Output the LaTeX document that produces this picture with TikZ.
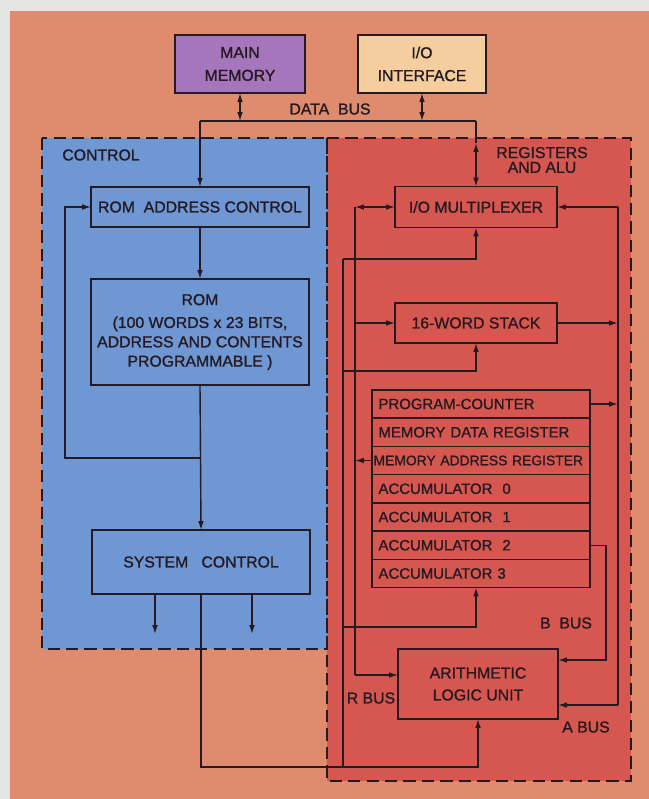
\documentclass[tikz,border=0pt]{standalone}
\usepackage{fontspec}
\setmainfont{Liberation Sans}[RawFeature={embolden=1.2}]
\usetikzlibrary{arrows.meta, positioning, calc}

\definecolor{sheetgray}{HTML}{E4E4E2}
\definecolor{plateorange}{HTML}{DE8C6D}
\definecolor{ctrlblue}{HTML}{6E97D3}
\definecolor{regred}{HTML}{D6574F}
\definecolor{mempurple}{HTML}{A676BC}
\definecolor{iobeige}{HTML}{F4CE9E}
\definecolor{ink}{HTML}{261A22}

\tikzset{
  unitbox/.style={draw=ink, line width=0.9pt, inner sep=0pt, outer sep=0pt,
    align=center, font=\fontsize{9}{11}\selectfont, text=ink},
  regrow/.style={unitbox, minimum width=4.36cm, minimum height=0.565cm,
    text width=4.1cm, align=left, font=\fontsize{8.5}{10}\selectfont},
  wire/.style={draw=ink, line width=0.8pt},
  feed/.style={wire, -{Latex[length=5pt,width=3.2pt]}},
  both/.style={wire, {Latex[length=5pt,width=3.2pt]}-{Latex[length=5pt,width=3.2pt]}},
  region/.style={draw=ink, line width=1.1pt, dash pattern=on 7pt off 3.5pt},
  tag/.style={font=\fontsize{9}{10}\selectfont, text=ink, inner sep=0pt}
}

\begin{document}
\begin{tikzpicture}[x=0.02cm, y=-0.02cm]
  % Plate and regions
  \useasboundingbox (0,0) rectangle (649,799);
  \fill[sheetgray] (0,0) rectangle (649,799);
  \fill[plateorange] (10,11) rectangle (649,799);
  \fill[ctrlblue] (42,138) rectangle (327,649);
  \fill[regred] (327,138) rectangle (631,781);
  \draw[region] (42,138) rectangle (327,649);
  \draw[region] (327,138) rectangle (631,781);

  % Outside units
  \node[unitbox, fill=mempurple, minimum width=2.6cm, minimum height=1.16cm]
    (mainmem) at (240,64) {MAIN\\[2pt]MEMORY};
  \node[unitbox, fill=iobeige, minimum width=2.56cm, minimum height=1.16cm]
    (iointf) at (422,64) {I/O\\[2pt]INTERFACE};

  % Control
  \node[tag, anchor=west] (ctrltag) at (62,155) {CONTROL};
  \node[unitbox, minimum width=4.36cm, minimum height=0.8cm]
    (rac) at (200,207) {ROM\ \ ADDRESS CONTROL};
  \node[unitbox, minimum width=4.36cm, minimum height=2.12cm]
    (rom) at (200,332) {ROM\\[2pt](100 WORDS x 23 BITS,\\ADDRESS AND CONTENTS\\PROGRAMMABLE )};
  \node[unitbox, minimum width=4.36cm, minimum height=1.28cm]
    (sysctl) at (201,562) {SYSTEM\ \ \ CONTROL};

  % Registers and ALU
  \node[tag, align=center, font=\fontsize{9}{8.4}\selectfont]
    (regtag) at (542,160) {REGISTERS\\AND ALU};
  \node[unitbox, minimum width=3.24cm, minimum height=0.82cm]
    (mux) at (476,207) {I/O MULTIPLEXER};
  \node[unitbox, minimum width=3.24cm, minimum height=0.8cm]
    (stack) at (476,323) {16-WORD STACK};
  \node[regrow] (pc) at (481,404) {PROGRAM-COUNTER};
  \node[regrow, below=0pt of pc] (mdr) {MEMORY DATA REGISTER};
  \node[regrow, below=0pt of mdr, text width=4.3cm, font=\fontsize{7.9}{9}\selectfont]
    (mar) {MEMORY ADDRESS REGISTER};
  \node[regrow, below=0pt of mar] (acc0) {ACCUMULATOR\ \ 0};
  \node[regrow, below=0pt of acc0] (acc1) {ACCUMULATOR\ \ 1};
  \node[regrow, below=0pt of acc1] (acc2) {ACCUMULATOR\ \ 2};
  \node[regrow, below=0pt of acc2] (acc3) {ACCUMULATOR 3};
  \node[unitbox, minimum width=3.2cm, minimum height=1.4cm]
    (alu) at (478,684) {ARITHMETIC\\[1.5pt]LOGIC UNIT};

  % Bus labels
  \node[tag] (databus) at (330,109) {DATA\ \ BUS};
  \node[tag] (bbustag) at (566,623) {B\ \ BUS};
  \node[tag] (abustag) at (586,727) {A BUS};
  \node[tag] (rbustag) at (371,698) {R BUS};

  % Data bus
  \coordinate (busy) at (0,121);
  \coordinate (busL) at (rac.north |- busy);
  \coordinate (busR) at (mux.north |- busy);
  \coordinate (muxtap) at (mux.north |- 0,143);
  \draw[wire] (busL) -- (busR);
  \draw[both] (mainmem.south) -- (mainmem.south |- busy);
  \draw[both] (iointf.south) -- (iointf.south |- busy);
  \draw[feed] (busL) -- (rac.north);
  \draw[wire] (busR) -- (muxtap);
  \draw[both] (muxtap) -- (mux.north);

  % Control flow
  \draw[feed] (rac.south) -- (rom.north);
  \draw[feed] (rom.south) -- (sysctl.north);
  \coordinate (loopj) at (rom.south |- 0,458);
  \coordinate (loopc) at (65,458);
  \draw[feed] (loopj) -- (loopc) |- (rac.west);
  \foreach \ox in {155,252}
    \draw[feed] (sysctl.south -| \ox,0) -- ++(0,40);
  \coordinate (retc) at (sysctl.south |- 0,767);
  \draw[feed] (sysctl.south) -- (retc) -| (alu.south);

  % Left return line
  \coordinate (ltop) at (343,259);
  \coordinate (lbot) at (343,767);
  \coordinate (lstk) at (343,371);
  \coordinate (lacc) at (343,627);
  \draw[wire] (ltop) -- (lbot);
  \draw[feed] (ltop) -| (mux.south);
  \draw[feed] (lstk) -| (stack.south);
  \draw[feed] (lacc) -| (acc3.south -| mux.south);

  % R bus
  \coordinate (rtop) at (mux.west -| 355,0);
  \coordinate (rbot) at (355,675);
  \draw[wire] (rtop) -- (rbot);
  \draw[both] (rtop) -- (mux.west);
  \draw[feed] (rtop |- stack.west) -- (stack.west);
  \draw[feed] (mar.west) -- (rtop |- mar.west);
  \draw[feed] (rbot) -- (alu.west |- rbot);

  % A bus
  \coordinate (atop) at (mux.east -| 618,0);
  \coordinate (abot) at (618,705);
  \draw[wire] (atop) -- (abot);
  \draw[feed] (atop) -- (mux.east);
  \draw[feed] (stack.east) -- (atop |- stack.east);
  \draw[feed] (pc.east) -- (atop |- pc.east);
  \draw[feed] (abot) -- (alu.east |- abot);

  % B bus
  \coordinate (bbus) at (606,660);
  \draw[feed] (acc2.east) -| (bbus) -- (alu.east |- bbus);
\end{tikzpicture}
\end{document}
